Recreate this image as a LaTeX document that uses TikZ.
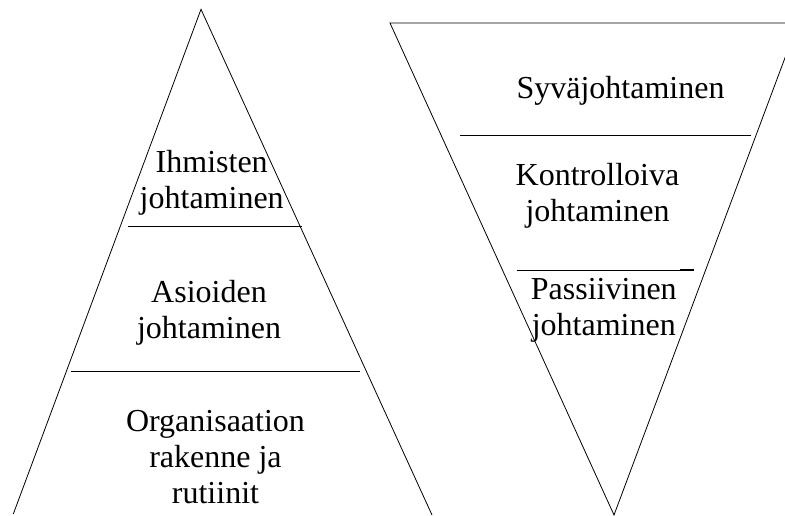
\documentclass[tikz,border=0pt]{standalone}
\usepackage{fontspec}
\setmainfont{Liberation Serif}
\begin{document}
\begin{tikzpicture}[x=0.75pt,y=-0.75pt,
  edge/.style={draw=black,line width=0.6pt},
  lbl/.style={font=\fontsize{24}{26.8}\selectfont,align=center,anchor=base,inner sep=0pt}]
\useasboundingbox (0,0) rectangle (785,515);
\begin{scope}
\clip (0,0) rectangle (785,515);
% left triangle
\coordinate (lA) at (201,9.3);
\coordinate (lL) at (13.3,514);
\coordinate (lR) at (432,515);
\draw[edge] (lL) -- (lA) -- (lR);
\coordinate (l1a) at (128,226.5);
\coordinate (l1b) at (302,226.5);
\draw[edge] (l1a) -- (l1b);
\coordinate (l2a) at (71,371);
\coordinate (l2b) at (360,371);
\draw[edge] (l2a) -- (l2b);
% right triangle
\coordinate (rTL) at (390,23);
\coordinate (rTR) at (798,23);
\coordinate (rB) at (614,515);
\draw[edge] (rTR) -- (rTL) -- (rB) -- (rTR);
\coordinate (r1a) at (460,135.7);
\coordinate (r1b) at (751,135.7);
\draw[edge] (r1a) -- (r1b);
\coordinate (r2a) at (516.5,270);
\coordinate (r2m) at (680,270);
\coordinate (r2b) at (694,270);
\draw[edge] (r2a) -- (r2m);
\draw[line width=1.5pt] (r2m) -- (r2b);
\end{scope}
% labels (anchor = baseline of last line)
\node[lbl] (ihm) at (211.7,208) {Ihmisten\\johtaminen};
\node[lbl] (asi) at (209,338) {Asioiden\\johtaminen};
\node[lbl] (org) at (215.5,503) {Organisaation\\rakenne ja\\rutiinit};
\node[lbl] (syv) at (620.5,98.3) {Syväjohtaminen};
\node[lbl] (kon) at (597.5,221.7) {Kontrolloiva\\johtaminen};
\node[lbl] (pas) at (603.8,335) {Passiivinen\\johtaminen};
\end{tikzpicture}
\end{document}
